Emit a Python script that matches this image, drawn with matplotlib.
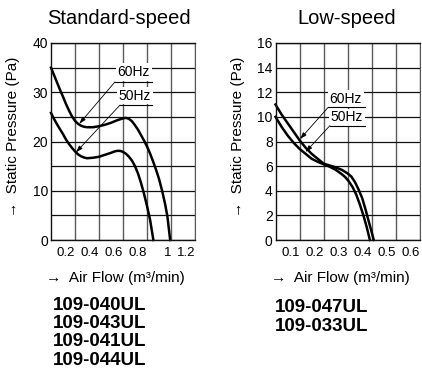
import matplotlib
matplotlib.use("Agg")
import matplotlib.pyplot as plt
from matplotlib.ticker import MultipleLocator

plt.rcParams['font.family'] = ['Liberation Sans', 'DejaVu Sans']

# standard-speed fan (Pa vs m3/min)
std_x60 = [0, 0.025, 0.05, 0.075, 0.1, 0.125, 0.15, 0.175, 0.2, 0.225, 0.25, 0.275, 0.3, 0.35, 0.4, 0.45, 0.5,
           0.55, 0.6, 0.625, 0.65, 0.675, 0.7, 0.725, 0.75, 0.775, 0.8, 0.825, 0.85, 0.875, 0.9, 0.925, 0.95, 0.97, 0.993]
std_y60 = [35, 33.5, 32.0, 30.5, 29.1, 27.6, 26.3, 25.1, 24.2, 23.6, 23.2, 23.0, 22.9, 22.9, 23.1, 23.4, 23.8,
           24.3, 24.7, 24.8, 24.6, 24.1, 23.3, 22.4, 21.3, 20.2, 19.0, 17.6, 16.0, 14.3, 12.4, 10.1, 7.4, 4.8, 0]
std_x50 = [0, 0.025, 0.05, 0.075, 0.1, 0.125, 0.15, 0.175, 0.2, 0.225, 0.25, 0.275, 0.3, 0.35, 0.4, 0.45, 0.5,
           0.525, 0.55, 0.575, 0.6, 0.625, 0.65, 0.675, 0.7, 0.725, 0.75, 0.775, 0.8, 0.825, 0.853]
std_y50 = [25.8, 24.6, 23.5, 22.5, 21.5, 20.4, 19.5, 18.7, 18.0, 17.4, 17.0, 16.75, 16.6, 16.7, 16.9, 17.3, 17.7,
           17.95, 18.1, 18.1, 17.9, 17.5, 16.9, 16.1, 15.0, 13.5, 11.6, 9.4, 6.9, 4.2, 0]

# low-speed fan
low_x60 = [0, 0.025, 0.05, 0.075, 0.1, 0.125, 0.15, 0.175, 0.2, 0.225, 0.25, 0.275, 0.3, 0.315, 0.33, 0.345,
           0.36, 0.375, 0.39, 0.4, 0.408]
low_y60 = [11.0, 10.2, 9.5, 8.8, 8.1, 7.5, 7.0, 6.6, 6.2, 6.05, 5.9, 5.7, 5.4, 5.15, 4.7, 4.1,
           3.4, 2.4, 1.3, 0.6, 0]
low_x50 = [0, 0.025, 0.05, 0.075, 0.1, 0.125, 0.15, 0.175, 0.2, 0.225, 0.25, 0.275, 0.29, 0.305, 0.32, 0.335,
           0.35, 0.365, 0.378, 0.392]
low_y50 = [10.0, 9.2, 8.5, 7.9, 7.4, 7.0, 6.6, 6.35, 6.15, 5.95, 5.7, 5.35, 5.1, 4.75, 4.3, 3.7,
           2.9, 2.0, 1.1, 0]

std_xticks = [0.2, 0.4, 0.6, 0.8, 1.0, 1.2]
std_xlabels = ['0.2', '0.4', '0.6', '0.8', '1', '1.2']
low_xticks = [0.1, 0.2, 0.3, 0.4, 0.5, 0.6]
low_xlabels = ['0.1', '0.2', '0.3', '0.4', '0.5', '0.6']

std_models = ['109-040UL', '109-043UL', '109-041UL', '109-044UL']
low_models = ['109-047UL', '109-033UL']

VGRID = '#5a5a5a'

fig = plt.figure(figsize=(4.22, 3.72), dpi=100)
ax1 = fig.add_axes([51/422, 132/372, 144/422, 197/372])
ax2 = fig.add_axes([275.5/422, 132/372, 144.5/422, 197/372])


def setup(ax, xmax, ymax, ystep, ylab_step, xticks, xlabels):
    ax.set_xlim(0, xmax)
    ax.set_ylim(0, ymax)
    ax.set_xticks(xticks)
    ax.set_xticklabels(xlabels, ha='right')
    ax.yaxis.set_major_locator(MultipleLocator(ylab_step))
    ax.yaxis.set_minor_locator(MultipleLocator(ystep))
    ax.tick_params(which='both', length=0, pad=2)
    ax.tick_params(axis='y', labelsize=10)
    ax.tick_params(axis='x', labelsize=9.5, pad=5)
    ax.grid(True, axis='x', color=VGRID, lw=1.0)
    ax.grid(True, axis='y', which='both', color='#111111', lw=0.9)
    for s in ['left', 'bottom', 'top']:
        ax.spines[s].set_linewidth(1.0)
        ax.spines[s].set_color('#111111')
    ax.spines['right'].set_color(VGRID)
    ax.set_axisbelow(True)


setup(ax1, 1.2, 40, 5, 10, std_xticks, std_xlabels)
setup(ax2, 0.6, 16, 2, 2, low_xticks, low_xlabels)

for ax, xs, ys in [(ax1, std_x60, std_y60), (ax1, std_x50, std_y50),
                   (ax2, low_x60, low_y60), (ax2, low_x50, low_y50)]:
    ax.plot(xs, ys, color='black', lw=1.8, solid_joinstyle='round', clip_on=False)


def hz_label(ax, text, txy, line_x, line_y, tip):
    ax.text(txy[0], txy[1], text, fontsize=10, ha='center', va='center',
            bbox=dict(facecolor='white', edgecolor='none', pad=1.2), zorder=5)
    ax.plot(line_x, [line_y, line_y], color='black', lw=0.8, zorder=6)
    ax.annotate('', xy=tip, xytext=(line_x[0], line_y),
                arrowprops=dict(arrowstyle='-|>,head_length=0.4,head_width=0.13',
                                color='black', lw=0.6, shrinkA=0, shrinkB=0), zorder=6)


hz_label(ax1, '60Hz', (0.69, 34.1), [0.533, 0.839], 32.1, (0.236, 23.6))
hz_label(ax1, '50Hz', (0.70, 29.3), [0.575, 0.839], 27.4, (0.208, 17.8))
hz_label(ax2, '60Hz', (0.292, 11.45), [0.219, 0.371], 10.78, (0.102, 8.2))
hz_label(ax2, '50Hz', (0.297, 9.95), [0.226, 0.371], 9.29, (0.125, 7.15))

# titles and axis labels
fig.text(119/422, 1 - 18/372, 'Standard-speed', fontsize=14.5, ha='center', va='center')
fig.text(347/422, 1 - 18/372, 'Low-speed', fontsize=14.5, ha='center', va='center')
for xp in [13/422, 238/422]:
    fig.text(xp, 1 - 137/372, '→  Static Pressure (Pa)', fontsize=11, rotation=90,
             ha='center', va='center')
fig.text(115/422, 1 - 278/372, '→  Air Flow (m³/min)', fontsize=11, ha='center', va='center')
fig.text(340/422, 1 - 278/372, '→  Air Flow (m³/min)', fontsize=11, ha='center', va='center')

for i, m in enumerate(std_models):
    fig.text(53/422, 1 - (305.5 + i * 18.2)/372, m, fontsize=13.5, fontweight='bold', va='center')
for i, m in enumerate(low_models):
    fig.text(275/422, 1 - (308 + i * 18.2)/372, m, fontsize=13.5, fontweight='bold', va='center')

fig.savefig('out.png', dpi=100)
